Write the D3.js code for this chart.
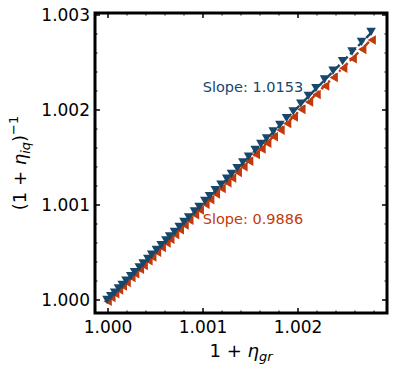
<!DOCTYPE html>
<html>
<head>
<meta charset="utf-8">
<script src="https://cdn.jsdelivr.net/npm/d3@7"></script>
<style>
  body { margin: 0; background: #fff; }
  text { font-family: "DejaVu Sans", sans-serif; }
</style>
</head>
<body>
<div id="chart"></div>
<script>
// 1 + eta_gr (x) for both series
var xGr = [1.000000, 1.000040, 1.000080, 1.000120, 1.000160, 1.000200, 1.000250, 1.000290,
  1.000340, 1.000380, 1.000430, 1.000470, 1.000520, 1.000570, 1.000620, 1.000660,
  1.000710, 1.000760, 1.000810, 1.000860, 1.000920, 1.000970, 1.001030, 1.001080,
  1.001140, 1.001200, 1.001260, 1.001310, 1.001370, 1.001430, 1.001490, 1.001560,
  1.001620, 1.001680, 1.001750, 1.001820, 1.001890, 1.001960, 1.002040, 1.002120,
  1.002200, 1.002290, 1.002380, 1.002480, 1.002580, 1.002680, 1.002780];
// blue: (1 + eta_iq)^-1
var yBlue = [1.000004, 1.000045, 1.000082, 1.000126, 1.000163, 1.000208, 1.000254, 1.000298,
  1.000346, 1.000389, 1.000437, 1.000482, 1.000530, 1.000580, 1.000632, 1.000672,
  1.000721, 1.000774, 1.000825, 1.000873, 1.000936, 1.000985, 1.001047, 1.001096,
  1.001160, 1.001218, 1.001280, 1.001330, 1.001392, 1.001453, 1.001514, 1.001583,
  1.001646, 1.001705, 1.001778, 1.001847, 1.001919, 1.001990, 1.002072, 1.002152,
  1.002235, 1.002325, 1.002417, 1.002518, 1.002620, 1.002722, 1.002826];
// red series
var yRed = [0.999998, 1.000038, 1.000078, 1.000117, 1.000158, 1.000196, 1.000247, 1.000286,
  1.000335, 1.000374, 1.000424, 1.000463, 1.000513, 1.000563, 1.000612, 1.000651,
  1.000701, 1.000750, 1.000800, 1.000850, 1.000908, 1.000958, 1.001018, 1.001067,
  1.001126, 1.001185, 1.001245, 1.001295, 1.001354, 1.001413, 1.001472, 1.001542,
  1.001601, 1.001660, 1.001730, 1.001799, 1.001868, 1.001938, 1.002016, 1.002095,
  1.002174, 1.002263, 1.002352, 1.002451, 1.002550, 1.002649, 1.002748];
var slopeBlue = 1.0153, slopeRed = 0.9886;
var xTicks = [1.000, 1.001, 1.002];
var yTicks = [1.000, 1.001, 1.002, 1.003];

var blue = "#17476a", red = "#c13a0c";

var svgWidth = 397, svgHeight = 371;
var margin = {top: 13, right: 10, bottom: 58, left: 95};
var width = 387 - margin.left;
var height = 313 - margin.top;

var svg = d3.select("#chart").append("svg")
  .attr("width", svgWidth).attr("height", svgHeight);
var g = svg.append("g").attr("transform", `translate(${margin.left},${margin.top})`);

var x = d3.scaleLinear().domain([0.999863, 1.002937]).range([0, width]);
var y = d3.scaleLinear().domain([0.999863, 1.003021]).range([height, 0]);

// fit lines through (1,1)
var x0 = 1.0, x1 = d3.max(xGr);
g.append("line")
  .attr("x1", x(x0)).attr("y1", y(1.0))
  .attr("x2", x(x1)).attr("y2", y(1.0 + slopeRed * (x1 - 1)))
  .attr("stroke", red).attr("stroke-width", 2.4)
  .attr("stroke-dasharray", "7,3,2,3");
g.append("line")
  .attr("x1", x(x0)).attr("y1", y(1.0))
  .attr("x2", x(x1)).attr("y2", y(1.0 + slopeBlue * (x1 - 1)))
  .attr("stroke", blue).attr("stroke-width", 2.4)
  .attr("stroke-dasharray", "8,3.5");

var tri = d3.symbol().type(d3.symbolTriangle).size(40);
g.selectAll(".red").data(xGr).enter().append("path")
  .attr("d", tri)
  .attr("transform", (d, i) => `translate(${x(d) + 1},${y(yRed[i]) + 1}) rotate(-90)`)
  .attr("fill", red);
g.selectAll(".blue").data(xGr).enter().append("path")
  .attr("d", tri)
  .attr("transform", (d, i) => `translate(${x(d) - 1},${y(yBlue[i]) - 1}) rotate(180)`)
  .attr("fill", blue);

// ticks (inside, all four sides)
function minor(ticks) {
  var out = [];
  for (var i = 0; i < ticks.length; i++) for (var k = 1; k < 5; k++) out.push(ticks[i] + k * 0.0002);
  return out.concat([ticks[0] - 0.0002]);
}
var xMinor = minor(xTicks).filter(v => v > x.domain()[0] && v < x.domain()[1]);
var yMinor = minor(yTicks).filter(v => v > y.domain()[0] && v < y.domain()[1]);

var tk = g.append("g").attr("stroke", "#000");
xTicks.forEach(v => {
  tk.append("line").attr("x1", x(v)).attr("x2", x(v)).attr("y1", height).attr("y2", height - 5).attr("stroke-width", 1.5);
  tk.append("line").attr("x1", x(v)).attr("x2", x(v)).attr("y1", 0).attr("y2", 5).attr("stroke-width", 1.5);
});
xMinor.forEach(v => {
  tk.append("line").attr("x1", x(v)).attr("x2", x(v)).attr("y1", height).attr("y2", height - 2.5).attr("stroke-width", 1);
  tk.append("line").attr("x1", x(v)).attr("x2", x(v)).attr("y1", 0).attr("y2", 2.5).attr("stroke-width", 1);
});
yTicks.forEach(v => {
  tk.append("line").attr("y1", y(v)).attr("y2", y(v)).attr("x1", 0).attr("x2", 5).attr("stroke-width", 1.5);
  tk.append("line").attr("y1", y(v)).attr("y2", y(v)).attr("x1", width).attr("x2", width - 5).attr("stroke-width", 1.5);
});
yMinor.forEach(v => {
  tk.append("line").attr("y1", y(v)).attr("y2", y(v)).attr("x1", 0).attr("x2", 2.5).attr("stroke-width", 1);
  tk.append("line").attr("y1", y(v)).attr("y2", y(v)).attr("x1", width).attr("x2", width - 2.5).attr("stroke-width", 1);
});

// frame
g.append("rect").attr("width", width).attr("height", height)
  .attr("fill", "none").attr("stroke", "#000").attr("stroke-width", 3);

// tick labels
g.selectAll(".xl").data(xTicks).enter().append("text")
  .attr("x", d => x(d)).attr("y", height + 20)
  .attr("text-anchor", "middle").attr("font-size", 17)
  .text(d => d.toFixed(3));
g.selectAll(".yl").data(yTicks).enter().append("text")
  .attr("x", -5).attr("y", d => y(d) + 6)
  .attr("text-anchor", "end").attr("font-size", 17)
  .text(d => d.toFixed(3));

// slope annotations
g.append("text").attr("x", 253 - margin.left).attr("y", 92 - margin.top)
  .attr("font-size", 14.5).attr("fill", blue).attr("text-anchor", "middle")
  .text("Slope: " + slopeBlue.toFixed(4));
g.append("text").attr("x", 253 - margin.left).attr("y", 224 - margin.top)
  .attr("font-size", 14.5).attr("fill", red).attr("text-anchor", "middle")
  .text("Slope: " + slopeRed.toFixed(4));

// axis labels
var xl = svg.append("text").attr("x", 241).attr("y", 357)
  .attr("text-anchor", "middle").attr("font-size", 18);
xl.append("tspan").text("1 + ");
xl.append("tspan").attr("font-style", "italic").text("η");
xl.append("tspan").attr("font-style", "italic").attr("font-size", 13).attr("dy", 4).text("gr");

var yl = svg.append("text")
  .attr("transform", "translate(26,163) rotate(-90)")
  .attr("text-anchor", "middle").attr("font-size", 18);
yl.append("tspan").text("(1 + ");
yl.append("tspan").attr("font-style", "italic").text("η");
yl.append("tspan").attr("font-style", "italic").attr("font-size", 13).attr("dy", 4).text("iq");
yl.append("tspan").attr("dy", -4).text(")");
yl.append("tspan").attr("font-size", 13).attr("dy", -8).text("−1");
</script>
</body>
</html>
